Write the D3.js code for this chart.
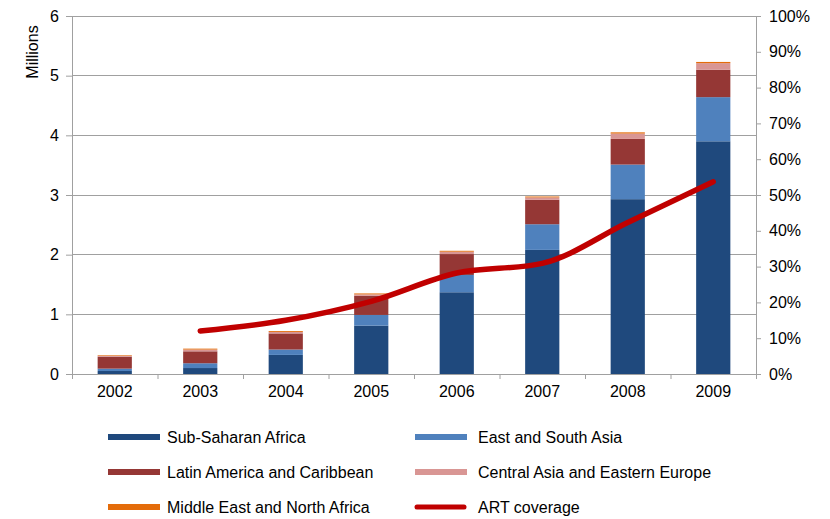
<!DOCTYPE html>
<html><head><meta charset="utf-8">
<script src="https://cdn.jsdelivr.net/npm/d3@7"></script>
<style>body{margin:0;background:#fff}svg{display:block}text{font-family:"Liberation Sans",Arial,sans-serif;fill:#000}</style>
</head><body><svg id="c" width="830" height="519"></svg>
<script>
const years = ["2002","2003","2004","2005","2006","2007","2008","2009"];
const subSaharan = [0.05,0.10,0.32,0.81,1.37,2.08,2.93,3.90];
const eastSouthAsia = [0.04,0.08,0.09,0.18,0.29,0.43,0.58,0.74];
const latinAmerica = [0.20,0.20,0.27,0.32,0.35,0.41,0.43,0.46];
const centralAsia = [0.015,0.03,0.025,0.025,0.04,0.04,0.09,0.11];
const middleEast = [0.01,0.015,0.015,0.015,0.015,0.015,0.02,0.02];
const artCoverage = [null,12,15,20.3,28.2,30.9,42.3,53.7];
const leftTicks = [0,1,2,3,4,5,6];
const rightTicks = [0,10,20,30,40,50,60,70,80,90,100];

const seriesNames = ["Sub-Saharan Africa","East and South Asia","Latin America and Caribbean","Central Asia and Eastern Europe","Middle East and North Africa"];
const seriesValues = [subSaharan,eastSouthAsia,latinAmerica,centralAsia,middleEast];
const colors = ["#1F497D","#4F81BD","#953735","#D99694","#E46C0A"];
const lineColor = "#C00000";

const svg = d3.select("#c");
const L=72,R=756,T=16,B=374;
const x = d3.scaleBand().domain(years).range([L,R]).paddingInner(0.6).paddingOuter(0.3);
const y = d3.scaleLinear().domain([0,6]).range([B,T]);
const y2 = d3.scaleLinear().domain([0,100]).range([B,T]);
const grey="#A0A0A0";

// gridlines
svg.append("g").selectAll("line").data(leftTicks.filter(d=>d>0)).join("line")
  .attr("x1",L).attr("x2",R).attr("y1",d=>y(d)).attr("y2",d=>y(d))
  .attr("stroke",grey).attr("stroke-width",1).attr("shape-rendering","crispEdges");

// stacked bars
const rows = years.map((yr,i)=>{const o={year:yr};seriesNames.forEach((n,k)=>o[n]=seriesValues[k][i]);return o;});
const stack = d3.stack().keys(seriesNames)(rows);
svg.append("g").selectAll("g").data(stack).join("g").attr("fill",(d,i)=>colors[i])
  .selectAll("rect").data(d=>d).join("rect")
  .attr("x",d=>x(d.data.year)).attr("width",x.bandwidth())
  .attr("y",d=>y(d[1])).attr("height",d=>y(d[0])-y(d[1]));

// axes
const gl = svg.append("g").attr("transform",`translate(${L},0)`)
  .call(d3.axisLeft(y).tickValues(leftTicks).tickFormat(d3.format("d")).tickSize(6).tickPadding(7));
const gr = svg.append("g").attr("transform",`translate(${R},0)`)
  .call(d3.axisRight(y2).tickValues(rightTicks).tickFormat(d=>d+"%").tickSize(5).tickPadding(8));
const xb = d3.scaleLinear().domain([0,8]).range([L,R]);
const gx = svg.append("g").attr("transform",`translate(0,${B})`)
  .call(d3.axisBottom(xb).tickValues(d3.range(0,9)).tickFormat("").tickSize(5));
svg.append("g").attr("transform",`translate(0,${B})`)
  .call(d3.axisBottom(x).tickSize(0).tickPadding(12)).select(".domain").remove();
svg.selectAll(".domain").attr("stroke",grey);
svg.selectAll(".tick line").attr("stroke",grey);
svg.selectAll(".tick text").attr("font-size",16).attr("font-family","'Liberation Sans',Arial,sans-serif").attr("fill","#000");

svg.append("text").attr("transform","translate(38,52) rotate(-90)").attr("text-anchor","middle")
  .attr("font-size",16).text("Millions");

// line
const line = d3.line().defined(d=>d.v!=null).x(d=>x(d.year)+x.bandwidth()/2).y(d=>y2(d.v)).curve(d3.curveMonotoneX);
svg.append("path").datum(years.map((yr,i)=>({year:yr,v:artCoverage[i]})))
  .attr("d",line).attr("fill","none").attr("stroke",lineColor).attr("stroke-width",5.5).attr("stroke-linecap","round").attr("stroke-linejoin","round");

// legend
const legendItems = seriesNames.map((n,i)=>({name:n,color:colors[i],line:false})).concat([{name:"ART coverage",color:lineColor,line:true}]);
const lg = svg.append("g");
legendItems.forEach((d,i)=>{
  const col=i%2,row=Math.floor(i/2);
  const sx = col===0?108:415, ty=437+row*35;
  if(d.line){
    lg.append("line").attr("x1",sx+2).attr("x2",sx+49).attr("y1",ty).attr("y2",ty).attr("stroke",d.color).attr("stroke-width",5).attr("stroke-linecap","round");
  } else {
    lg.append("rect").attr("x",sx).attr("y",ty-3).attr("width",52).attr("height",6).attr("fill",d.color);
  }
  lg.append("text").attr("x",sx+(col===0?59:63)).attr("y",ty).attr("dy","0.35em").attr("font-size",16).text(d.name);
});
</script></body></html>
